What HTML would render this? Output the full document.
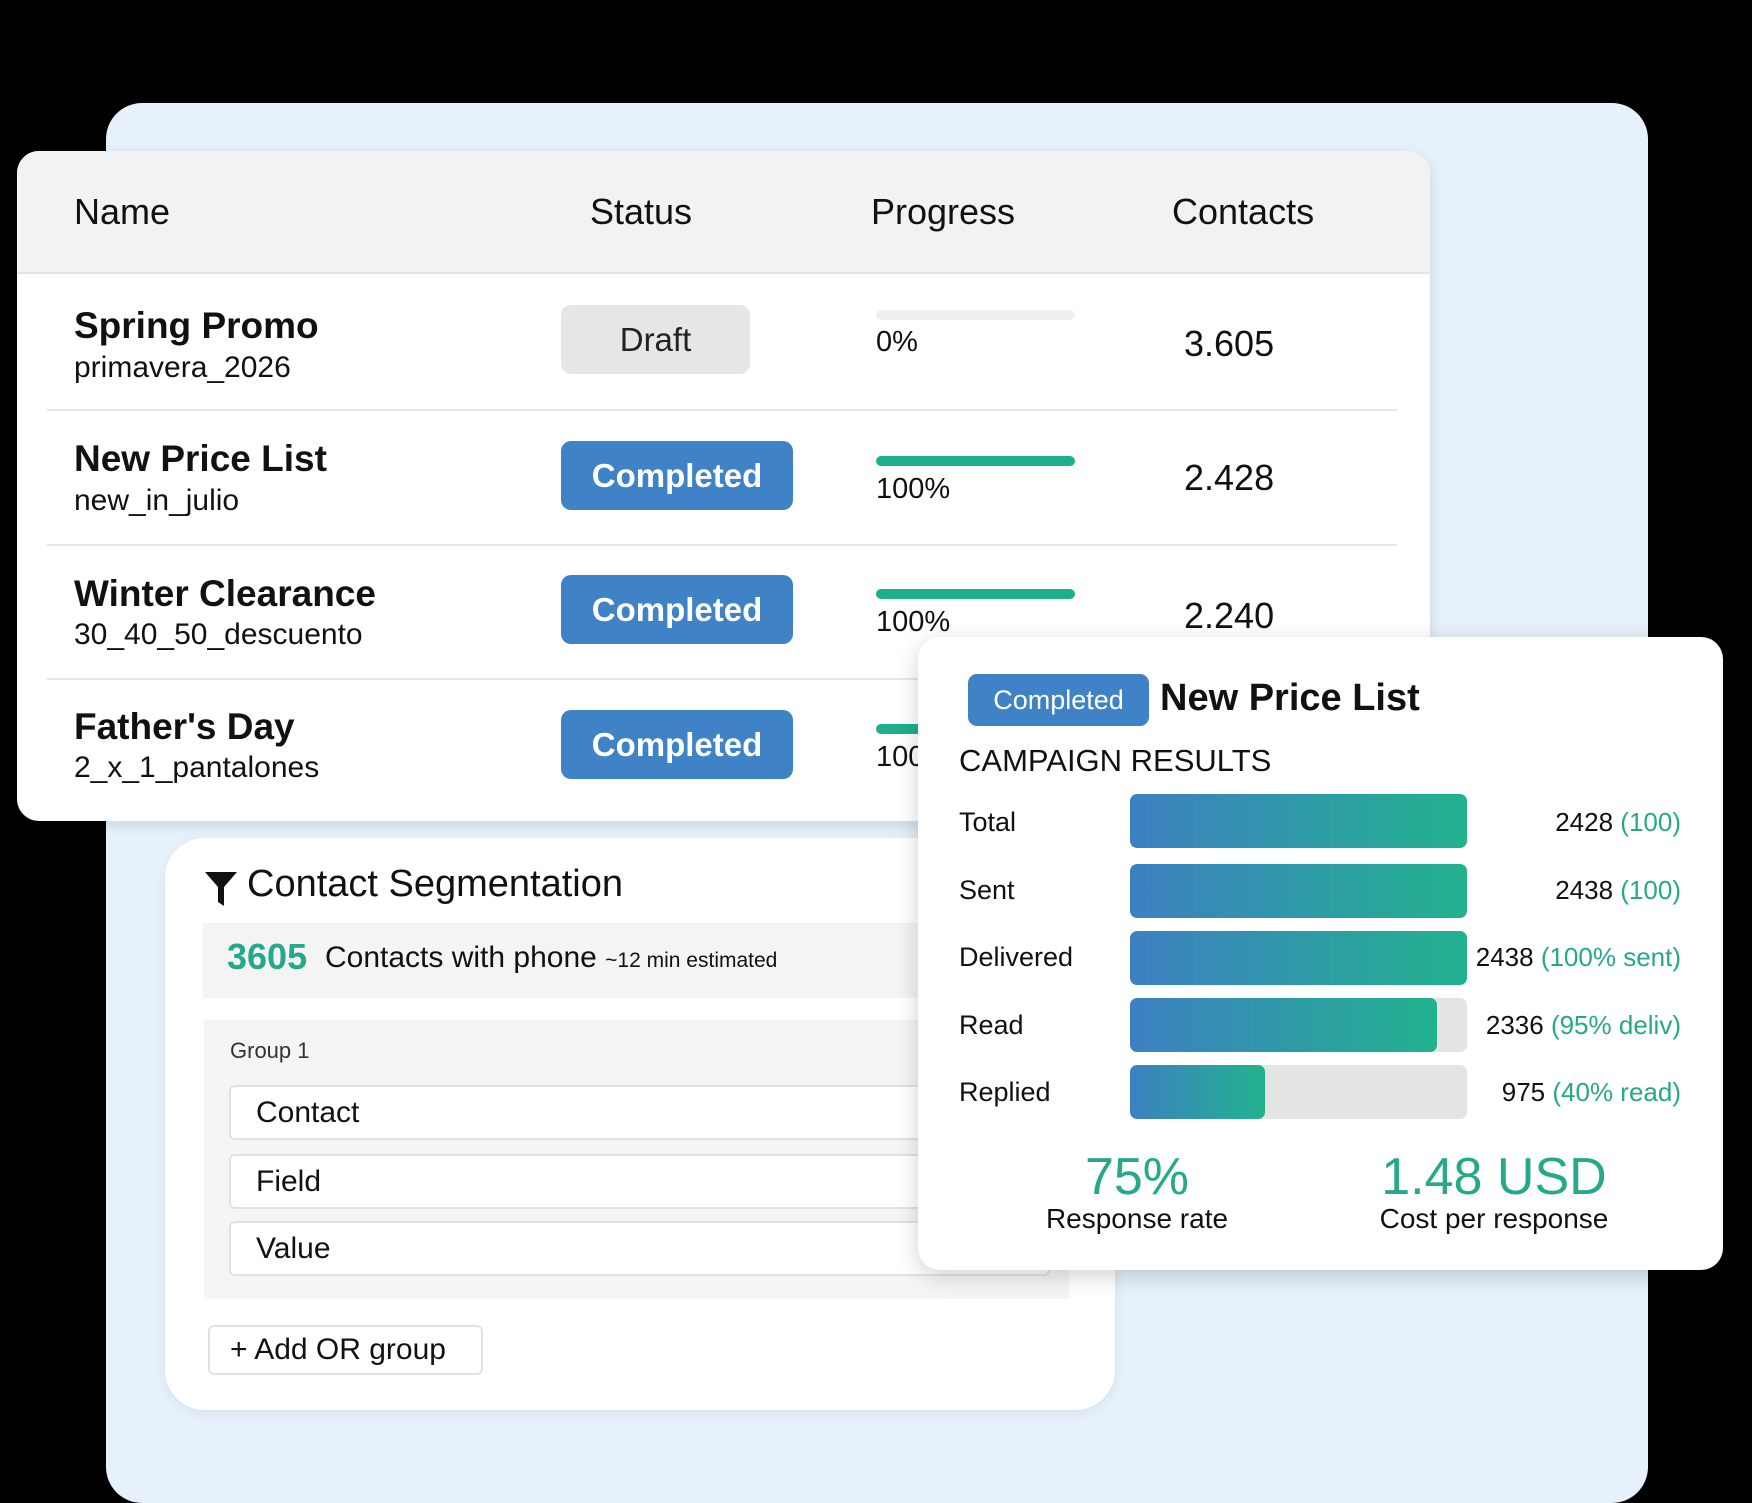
<!DOCTYPE html>
<html><head><meta charset="utf-8"><style>
*{margin:0;padding:0;box-sizing:border-box}
body{width:1752px;height:1470px;background:#000;position:relative;overflow:hidden;font-family:"Liberation Sans",sans-serif;color:#111}
.a{position:absolute;white-space:nowrap}
.bg{left:106px;top:103px;width:1542px;height:1400px;background:#e6f1fb;border-radius:36px}
.card{left:17px;top:151px;width:1413px;height:670px;background:#fff;border-radius:22px;overflow:hidden;box-shadow:0 4px 14px rgba(0,0,0,.12)}
.hdr{left:0;top:0;width:1413px;height:123px;background:#f2f2f2;border-bottom:2px solid #e4e4e4}
.h{font-size:36px;top:40px}
.sep{left:30px;width:1350px;height:2px;background:#e6e6e6}
.t{font-size:37px;font-weight:bold;left:57px}
.s{font-size:30px;left:57px}
.badge{left:544px;width:232px;height:69px;background:#3f82c6;border-radius:10px;color:#fff;font-size:33px;font-weight:bold;text-align:center;line-height:69px}
.pb{left:859px;width:199px;height:10px;border-radius:5px;background:#1fae8e}
.pc{left:859px;font-size:29px}
.cv{left:1167px;font-size:36px}
.res{left:918px;top:637px;width:805px;height:633px;background:#fff;border-radius:22px;box-shadow:0 6px 24px rgba(0,0,0,.18)}
.lab{left:41px;font-size:27px}
.bar{left:212px;width:337px;height:54px;background:#e4e4e4;border-radius:7px;overflow:hidden}
.fill{height:100%;background:linear-gradient(90deg,#3d80c2,#22b28e);border-radius:7px}
.val{right:42px;font-size:26px;text-align:right}
.val span{color:#26a88b}
.seg{left:165px;top:838px;width:950px;height:572px;background:#fff;border-radius:40px;box-shadow:0 4px 14px rgba(0,0,0,.06)}
.inp{left:64px;width:821px;height:55px;background:#fff;border:2px solid #e2e2e2;border-radius:6px;font-size:30px;padding-left:25px;line-height:51px}
</style></head><body>
<div class="a bg"></div>
<div class="a card">
 <div class="a hdr"></div>
 <div class="a h" style="left:57px">Name</div>
 <div class="a h" style="left:573px">Status</div>
 <div class="a h" style="left:854px">Progress</div>
 <div class="a h" style="left:1155px">Contacts</div>

 <div class="a t" style="top:154px">Spring Promo</div>
 <div class="a s" style="top:200px">primavera_2026</div>
 <div class="a badge" style="top:154px;width:189px;background:#e6e6e6;color:#222;font-weight:normal">Draft</div>
 <div class="a pb" style="top:159px;background:#efefef"></div>
 <div class="a pc" style="top:175px">0%</div>
 <div class="a cv" style="top:172px">3.605</div>
 <div class="a sep" style="top:258px"></div>

 <div class="a t" style="top:287px">New Price List</div>
 <div class="a s" style="top:333px">new_in_julio</div>
 <div class="a badge" style="top:290px">Completed</div>
 <div class="a pb" style="top:305px"></div>
 <div class="a pc" style="top:322px">100%</div>
 <div class="a cv" style="top:306px">2.428</div>
 <div class="a sep" style="top:393px"></div>

 <div class="a t" style="top:422px">Winter Clearance</div>
 <div class="a s" style="top:467px">30_40_50_descuento</div>
 <div class="a badge" style="top:424px">Completed</div>
 <div class="a pb" style="top:438px"></div>
 <div class="a pc" style="top:455px">100%</div>
 <div class="a cv" style="top:444px">2.240</div>
 <div class="a sep" style="top:527px"></div>

 <div class="a t" style="top:555px">Father's Day</div>
 <div class="a s" style="top:600px">2_x_1_pantalones</div>
 <div class="a badge" style="top:559px">Completed</div>
 <div class="a pb" style="top:573px"></div>
 <div class="a pc" style="top:590px">100%</div>
</div>

<div class="a seg">
 <svg class="a" style="left:40px;top:34px" width="32" height="34" viewBox="0 0 32 34"><path d="M0 0H32L19 15V34L13 30V15Z" fill="#111"/></svg>
 <div class="a" style="left:82px;top:25px;font-size:38px">Contact Segmentation</div>
 <div class="a" style="left:38px;top:85px;width:900px;height:75px;background:#f4f4f4"></div>
 <div class="a" style="left:62px;top:98px;font-size:36px;font-weight:bold;color:#26a88b">3605</div>
 <div class="a" style="left:160px;top:103px;font-size:30px">Contacts with phone <span style="font-size:21px">~12 min estimated</span></div>
 <div class="a" style="left:39px;top:182px;width:865px;height:279px;background:#f5f5f5"></div>
 <div class="a" style="left:65px;top:200px;font-size:22px;color:#333">Group 1</div>
 <div class="a inp" style="top:247px">Contact</div>
 <div class="a inp" style="top:316px">Field</div>
 <div class="a inp" style="top:383px">Value</div>
 <div class="a" style="left:43px;top:487px;width:275px;height:50px;border:2px solid #e2e2e2;border-radius:6px;background:#fff;font-size:30px;line-height:46px;padding-left:20px">+ Add OR group</div>
</div>

<div class="a res">
 <div class="a" style="left:50px;top:37px;width:181px;height:52px;background:#3f82c6;border-radius:9px;color:#fff;font-size:27px;text-align:center;line-height:52px">Completed</div>
 <div class="a" style="left:242px;top:40px;font-size:38px;font-weight:bold">New Price List</div>
 <div class="a" style="left:41px;top:106px;font-size:31px">CAMPAIGN RESULTS</div>

 <div class="a lab" style="top:170px">Total</div>
 <div class="a bar" style="top:157px"><div class="fill" style="width:100%"></div></div>
 <div class="a val" style="top:170px">2428 <span>(100)</span></div>

 <div class="a lab" style="top:238px">Sent</div>
 <div class="a bar" style="top:227px"><div class="fill" style="width:100%"></div></div>
 <div class="a val" style="top:238px">2438 <span>(100)</span></div>

 <div class="a lab" style="top:305px">Delivered</div>
 <div class="a bar" style="top:294px"><div class="fill" style="width:100%"></div></div>
 <div class="a val" style="top:305px">2438 <span>(100% sent)</span></div>

 <div class="a lab" style="top:373px">Read</div>
 <div class="a bar" style="top:361px"><div class="fill" style="width:91%"></div></div>
 <div class="a val" style="top:373px">2336 <span>(95% deliv)</span></div>

 <div class="a lab" style="top:440px">Replied</div>
 <div class="a bar" style="top:428px"><div class="fill" style="width:40%"></div></div>
 <div class="a val" style="top:440px">975 <span>(40% read)</span></div>

 <div class="a" style="left:119px;width:200px;text-align:center;top:510px;font-size:52px;color:#26a88b">75%</div>
 <div class="a" style="left:69px;width:300px;text-align:center;top:566px;font-size:28px">Response rate</div>
 <div class="a" style="left:426px;width:300px;text-align:center;top:510px;font-size:52px;color:#26a88b">1.48 USD</div>
 <div class="a" style="left:426px;width:300px;text-align:center;top:566px;font-size:28px">Cost per response</div>
</div>
</body></html>
